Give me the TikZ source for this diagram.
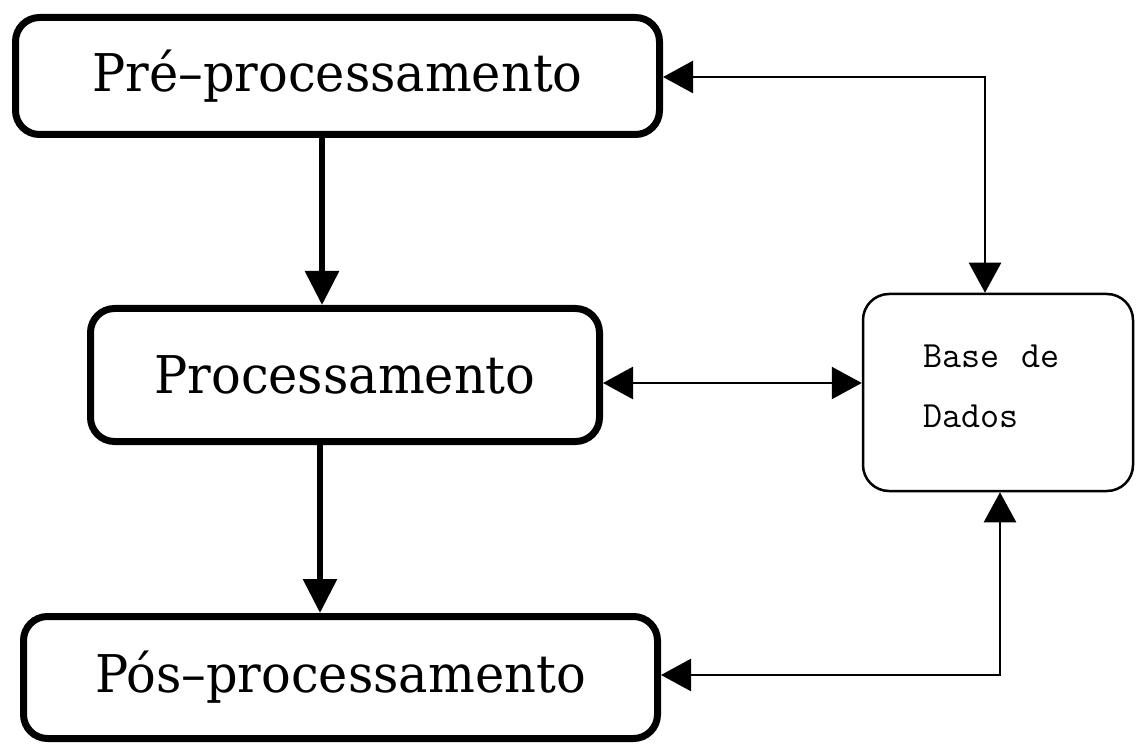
\documentclass[tikz,border=0pt]{standalone}
\usepackage{fontspec}
\newfontfamily\boxfont{DejaVu Serif}
\usetikzlibrary{arrows.meta}
\newcommand{\boxtext}[1]{\scalebox{0.95}[1]{#1}}
\begin{document}
\begin{tikzpicture}[x=1pt,y=1pt,
  bigbox/.style={draw, line width=7pt, rounded corners=24pt, inner sep=0pt,
    font=\boxfont\fontsize{52}{56}\selectfont},
  dbbox/.style={draw, line width=2.5pt, rounded corners=26pt, inner sep=0pt,
    align=left, text width=150pt, font=\ttfamily\fontsize{37}{60}\selectfont},
  mainarrow/.style={line width=6pt, -{Triangle[length=34pt,width=33pt]}},
  sidearrow/.style={line width=2.5pt,
    {Triangle[length=30pt,width=32pt]}-{Triangle[length=30pt,width=32pt]}}
]
\useasboundingbox (0,0) rectangle (1136,-751);

\node[bigbox, minimum width=644pt, minimum height=117pt] (pre) at (337.5,-76) {\boxtext{Pré–processamento}};
\node[bigbox, minimum width=509pt, minimum height=133pt] (proc) at (345,-375) {\boxtext{Processamento}};
\node[bigbox, minimum width=634pt, minimum height=122pt] (pos) at (340.5,-677.5) {\boxtext{Pós–processamento}};
\node[dbbox, minimum width=270pt, minimum height=197pt] (db) at (998,-392.5)
  {Base\kern10pt\ de\\Dados\rule[-13pt]{0pt}{13pt}};

\draw[mainarrow] ([xshift=-15.5pt]pre.south) -- ([xshift=-15.5pt]pre.south |- proc.north);
\draw[mainarrow] ([xshift=-25pt]proc.south) -- ([xshift=-25pt]proc.south |- pos.north);

\draw[sidearrow] ([yshift=-1pt]pre.east) -| ([xshift=-13pt]db.north);
\draw[sidearrow] ([yshift=-8pt]proc.east) -- ([yshift=-8pt]proc.east -| db.west);
\draw[sidearrow] ([yshift=2.5pt]pos.east) -| ([xshift=2pt]db.south);
\end{tikzpicture}
\end{document}
